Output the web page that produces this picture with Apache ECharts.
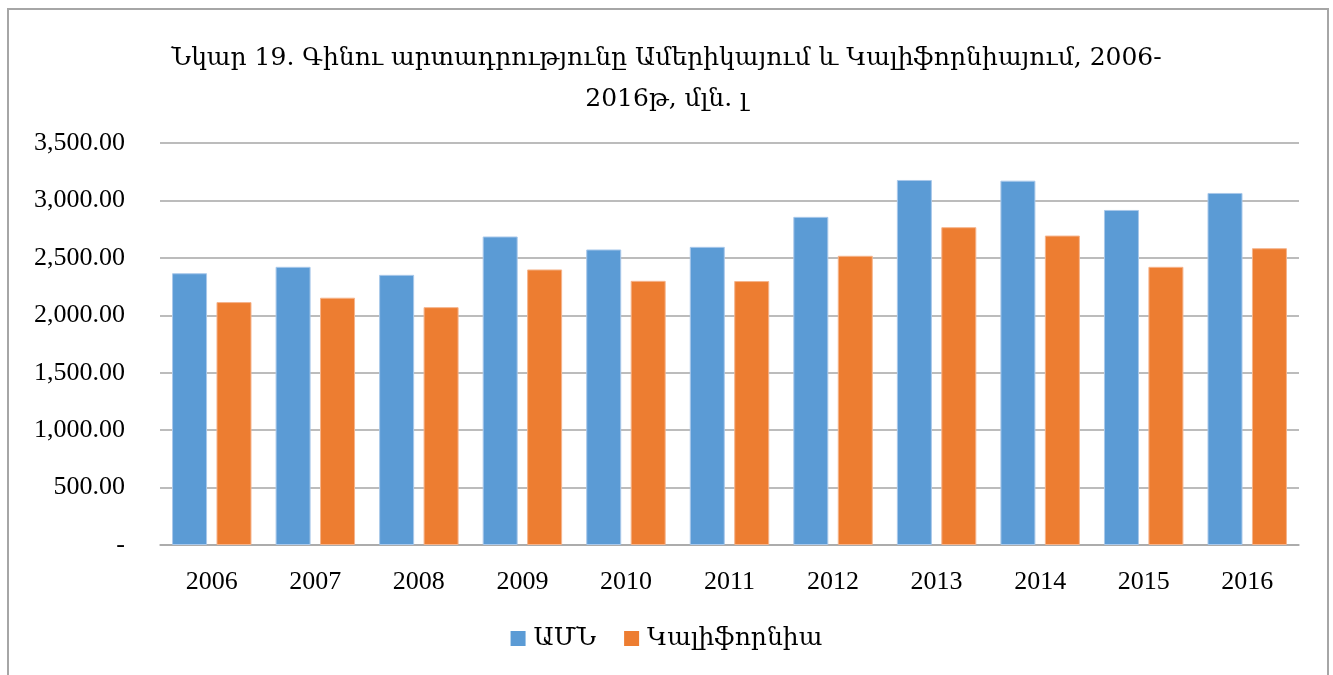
<!DOCTYPE html>
<html>
<head>
<meta charset="utf-8">
<script src="https://cdn.jsdelivr.net/npm/echarts@6/dist/echarts.min.js"></script>
<style>
  html, body { margin: 0; padding: 0; background: #fff; }
  #main { width: 1333px; height: 675px; }
</style>
</head>
<body>
<div id="main"></div>
<script>
const years = ['2006', '2007', '2008', '2009', '2010', '2011', '2012', '2013', '2014', '2015', '2016'];
const usa = [2366, 2422, 2352, 2686, 2573, 2596, 2857, 3178, 3172, 2917, 3065];
const california = [2115, 2153, 2071, 2399, 2300, 2298, 2518, 2767, 2694, 2422, 2584];
const seriesNames = ['ԱՄՆ', 'Կալիֆորնիա'];

const serif = "'Liberation Serif', 'DejaVu Serif', serif";

const chart = echarts.init(document.getElementById('main'));
const option = {
    backgroundColor: '#fff',
    textStyle: { fontFamily: serif },
    graphic: [{
        type: 'rect',
        shape: { x: 8, y: 9, width: 1320, height: 700 },
        style: { fill: 'none', stroke: '#a6a6a6', lineWidth: 2 },
        silent: true
    }],
    title: {
        text: 'Նկար 19. Գինու արտադրությունը Ամերիկայում և Կալիֆորնիայում, 2006-\n2016թ, մլն. լ',
        left: 'center',
        top: 33,
        textStyle: {
            fontFamily: "'DejaVu Serif', serif",
            fontSize: 25,
            fontWeight: 'normal',
            color: '#000',
            lineHeight: 41
        }
    },
    legend: {
        data: seriesNames,
        bottom: 19,
        left: 'center',
        icon: 'rect',
        itemWidth: 15,
        itemHeight: 15,
        itemGap: 28,
        itemStyle: { borderWidth: 0 },
        textStyle: { fontFamily: serif, fontSize: 25, color: '#000', padding: [0, 0, 0, 3] }
    },
    grid: {
        left: 160,
        right: 34,
        top: 143,
        bottom: 130,
        containLabel: false
    },
    xAxis: {
        type: 'category',
        data: years,
        axisLine: { lineStyle: { color: '#a6a6a6', width: 1.5 } },
        axisTick: { show: false },
        axisLabel: { fontFamily: serif, fontSize: 26, color: '#000', margin: 24 }
    },
    yAxis: {
        type: 'value',
        min: 0,
        max: 3500,
        interval: 500,
        axisLine: { show: false },
        axisTick: { show: false },
        splitLine: { lineStyle: { color: '#a6a6a6', width: 1.5 } },
        axisLabel: {
            fontFamily: serif,
            fontSize: 26,
            color: '#000',
            margin: 35,
            formatter: v => v === 0 ? '-' : v.toLocaleString('en-US', { minimumFractionDigits: 2, maximumFractionDigits: 2 })
        }
    },
    series: [{
        name: seriesNames[0],
        type: 'bar',
        data: usa,
        barWidth: 35,
        barGap: '27%',
        itemStyle: { color: '#5b9bd5', borderColor: '#a9c8ea', borderWidth: 1 }
    }, {
        name: seriesNames[1],
        type: 'bar',
        data: california,
        barWidth: 35,
        itemStyle: { color: '#ed7d31', borderColor: '#f5b48c', borderWidth: 1 }
    }]
};

chart.setOption(option);
window.addEventListener('resize', () => chart.resize());
</script>
</body>
</html>
